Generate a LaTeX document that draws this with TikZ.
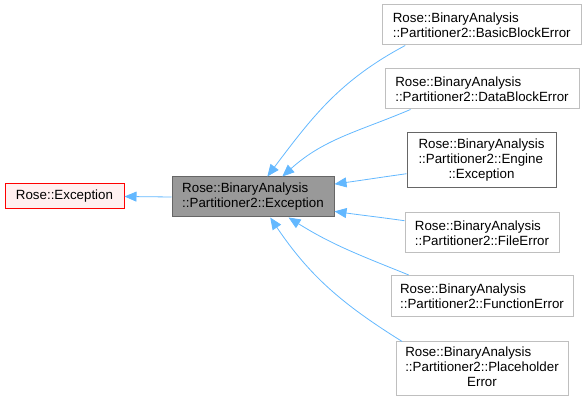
\documentclass[tikz,border=0pt]{standalone}
\usepackage{fontspec}
\setmainfont{Liberation Sans}
\usetikzlibrary{arrows.meta}

\definecolor{edgeblue}{RGB}{99,184,255}
\definecolor{grey75}{RGB}{191,191,191}
\definecolor{grey60}{RGB}{153,153,153}
\definecolor{grey40}{RGB}{102,102,102}
\definecolor{rosefill}{RGB}{255,240,240}

\begin{document}
\begin{tikzpicture}[x=0.75pt,y=-0.75pt,
  cls/.style={draw=grey75, fill=white, line width=0.75pt, inner sep=2pt, align=left, font=\fontsize{10pt}{11.25pt}\selectfont},
  basecls/.style={cls, draw=red, fill=rosefill},
  curcls/.style={cls, draw=grey40, fill=grey60},
  doccls/.style={cls, draw=grey40},
  inherit/.style={draw=edgeblue, line width=0.6pt, -{Triangle[length=9pt,width=7.5pt]}}]
\useasboundingbox (0,0) rectangle (587,402);

% Base class
\node [basecls, minimum width=89.25pt, minimum height=18.75pt] (rexc) at (64.5,196.5) {Rose::Exception};
% Current class
\node [curcls, minimum width=121.5pt, minimum height=30pt] (exc) at (253,197) {Rose::BinaryAnalysis\\::Partitioner2::Exception};

% Derived classes
\node [cls, minimum width=148.9pt, minimum height=30pt] (bbe) at (481.75,25) {Rose::BinaryAnalysis\\::Partitioner2::BasicBlockError};
\node [cls, minimum width=145.5pt, minimum height=30pt] (dbe) at (482,89) {Rose::BinaryAnalysis\\::Partitioner2::DataBlockError};
\node [doccls, minimum width=111.75pt, minimum height=41.25pt] (eng) at (481.5,160.5) {\begin{tabular}{@{}l@{}}Rose::BinaryAnalysis\\::Partitioner2::Engine\\\multicolumn{1}{@{}c@{}}{::Exception}\end{tabular}};
\node [cls, minimum width=115.5pt, minimum height=30pt] (fle) at (482,233) {Rose::BinaryAnalysis\\::Partitioner2::FileError};
\node [cls, minimum width=136.5pt, minimum height=30.75pt] (fne) at (482,296) {Rose::BinaryAnalysis\\::Partitioner2::FunctionError};
\node [cls, minimum width=129pt, minimum height=40.5pt] (phe) at (482,369) {\begin{tabular}{@{}l@{}}Rose::BinaryAnalysis\\::Partitioner2::Placeholder\\\multicolumn{1}{@{}c@{}}{Error}\end{tabular}};

% Inheritance edges
\draw [inherit] (exc.west) -- (rexc.east);
\draw [inherit] (bbe.195) to [out=208, in=53] (exc.55);
\draw [inherit] (dbe.196) to [out=203, in=42] (exc.35);
\draw [inherit] (eng.190) to [out=188, in=8] (exc.9);
\draw [inherit] (fle.171) to [out=172, in=-8] (exc.-10);
\draw [inherit] (fne.164) to [out=158, in=-32] (exc.-30);
\draw [inherit] (phe.161) to [out=148, in=-56] (exc.-50);

\end{tikzpicture}
\end{document}
